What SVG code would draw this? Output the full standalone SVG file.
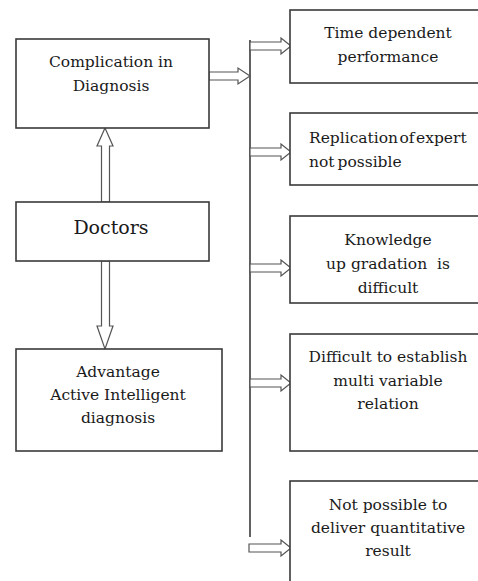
<svg xmlns="http://www.w3.org/2000/svg" width="478" height="581" viewBox="0 0 478 581">
<style>
.box{fill:#fff;stroke:#3a3a3a;stroke-width:1.6}
.arr{fill:#fff;stroke:#555;stroke-width:1.2;stroke-linejoin:miter}
.t{font-family:'DejaVu Serif',serif;font-size:15.5px;fill:#1a1a1a;text-anchor:middle}
.tl{text-anchor:start}
.big{font-size:19px}
.line{stroke:#3a3a3a;stroke-width:1.6;fill:none}
</style>
<rect width="478" height="581" fill="#fff"/>
<g id="connectors">
<line class="line" x1="250" y1="40" x2="250" y2="537"/>
<polygon class="arr" points="209,72 238,72 238,68 250,76 238,84 238,80 209,80"/>
<polygon class="arr" points="250,42 281,42 281,38 291,46 281,54 281,50 250,50"/>
<polygon class="arr" points="250,148 281,148 281,144 291,152 281,160 281,156 250,156"/>
<polygon class="arr" points="250,264 281,264 281,260 291,268 281,276 281,272 250,272"/>
<polygon class="arr" points="250,379 281,379 281,375 291,383 281,391 281,387 250,387"/>
<polygon class="arr" points="249,544 281,544 281,540 291,548 281,556 281,552 249,552"/>
<polygon class="arr" points="105,128 113,146 109.5,146 109.5,202 101.5,202 101.5,146 97,146"/>
<polygon class="arr" points="101.5,261 109.5,261 109.5,326 113,326 105,349 97,326 101.5,326"/>
</g>
<g id="complication">
<rect class="box" x="16" y="39" width="193" height="89"/>
<text class="t" x="111" y="67">Complication in</text>
<text class="t" x="111" y="91">Diagnosis</text>
</g>
<g id="doctors">
<rect class="box" x="16" y="202" width="193" height="59"/>
<text class="t big" x="111" y="234">Doctors</text>
</g>
<g id="advantage">
<rect class="box" x="16" y="349" width="206" height="102"/>
<text class="t" x="118" y="377">Advantage</text>
<text class="t" x="118" y="400">Active Intelligent</text>
<text class="t" x="118" y="423">diagnosis</text>
</g>
<g id="time">
<rect class="box" x="290" y="10" width="200" height="73"/>
<text class="t" x="388" y="38">Time dependent</text>
<text class="t" x="388" y="62">performance</text>
</g>
<g id="replication">
<rect class="box" x="290" y="113" width="200" height="72"/>
<text class="t tl" x="309" y="143" word-spacing="-3.5">Replication of expert</text>
<text class="t tl" x="309" y="167" word-spacing="-2">not possible</text>
</g>
<g id="knowledge">
<rect class="box" x="290" y="216" width="200" height="87"/>
<text class="t" x="388" y="245">Knowledge</text>
<text class="t" x="388" y="269" xml:space="preserve">up gradation  is</text>
<text class="t" x="388" y="293">difficult</text>
</g>
<g id="multivariable">
<rect class="box" x="290" y="334" width="200" height="117"/>
<text class="t" x="388" y="362">Difficult to establish</text>
<text class="t" x="388" y="386">multi variable</text>
<text class="t" x="388" y="409">relation</text>
</g>
<g id="quantitative">
<rect class="box" x="290" y="481" width="200" height="130"/>
<text class="t" x="388" y="510">Not possible to</text>
<text class="t" x="388" y="533">deliver quantitative</text>
<text class="t" x="388" y="556">result</text>
</g>
</svg>
